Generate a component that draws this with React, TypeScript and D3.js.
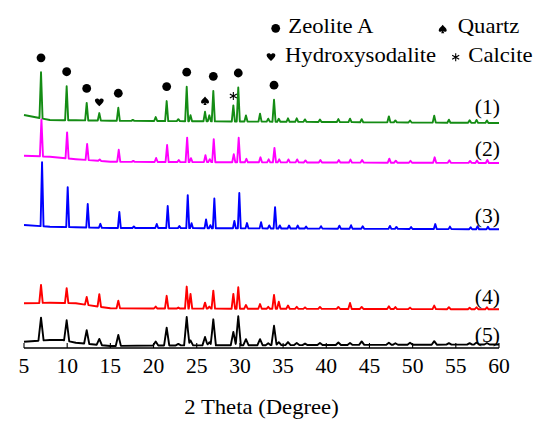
import * as d3 from "d3";

// 2θ tick labels
const thetaTicks = [5, 10, 15, 20, 25, 30, 35, 40, 45, 50, 55, 60];

// peak positions (2θ) shared by all samples
const peakTheta = [
  6.97, 9.94, 12.26, 13.72, 15.92, 17.6, 20.25, 21.52, 22.87, 23.84, 24.28, 25.96,
  26.46, 26.92, 29.24, 29.81, 30.7, 32.33, 33.28, 33.95, 34.5, 35.57, 36.58, 37.54,
  39.27, 41.4, 42.75, 44.1, 47.25, 48.0, 49.7, 52.5, 54.2, 56.6, 57.4, 58.6
];

// net peak intensities (a.u.) per sample, same order as peakTheta
const peaks1 = [46, 34, 17.5, 7.5, 13, 1, 4, 20, 2, 34.5, 6, 9.5, 6, 30.5, 16, 34, 6, 8, 3, 22, 3, 3.5, 3.5, 2.5, 2.5, 3, 3.5, 3, 6, 2, 2, 7, 3, 2.5, 3, 2.5];
const peaks2 = [37, 26, 16, 1.5, 12, 1, 4, 17, 2, 24.5, 4, 7, 3, 23, 8, 24.5, 3.5, 5, 3, 14.5, 3, 3, 3, 2, 2.5, 2.5, 3, 2.5, 4, 2, 2, 5.5, 2.5, 2, 2.5, 3];
const peaks3 = [64, 40, 23.5, 4, 16, 1.5, 4, 22, 2, 33, 5, 8.7, 3, 29.7, 7.3, 35.3, 5.3, 6.3, 3, 21.3, 3, 3, 3, 2, 2.5, 3, 3.5, 2.5, 3, 2, 2, 5, 2.5, 2, 3, 2.5];
const peaks4 = [18, 15, 8, 12.5, 7.7, 0, 2, 12.7, 1, 22, 14.7, 6, 2, 18, 14.7, 21.4, 3.7, 4.7, 2, 13.8, 7, 3.3, 2, 1.5, 2, 2, 6, 2, 2.7, 2, 1.5, 3.6, 2, 1.5, 2, 2];
const peaks5 = [23, 20.5, 13.5, 6, 11, 0, 4, 17.7, 1.5, 28.4, 5, 8.4, 3, 26, 13.4, 29, 6, 6, 2, 19.4, 3, 3, 2, 1.5, 2, 2.5, 2, 3.5, 2, 1.5, 2, 3.5, 1.5, 1.5, 2, 1.5];

// background (stacked offset + amorphous hump) at these 2θ knots
const baseKnots = [5, 8, 9.5, 11, 15, 20, 60];
const base1 = [233, 228, 227.8, 227.7, 227.3, 227, 225];
const base2 = [192.3, 191.3, 190, 188.8, 186.3, 186, 185];
const base3 = [123, 121.3, 121, 120.7, 120, 120, 118.7];
const base4 = [44.7, 45.3, 45, 44.7, 39.7, 39.5, 38.7];
const base5 = [6.3, 8, 8, 5.3, 2, 2.5, 3.5];

const sampleLabels = ["(1)", "(2)", "(3)", "(4)", "(5)"];

// phase markers over sample (1)
const markerPhase = ["zeolite", "zeolite", "zeolite", "hydroxy", "zeolite", "zeolite", "zeolite", "quartz", "zeolite", "calcite", "zeolite", "zeolite"];
const markerTheta = [6.97, 9.94, 12.26, 13.72, 15.92, 21.52, 23.84, 25.96, 26.92, 29.24, 29.81, 33.95];

const legendPhase = ["zeolite", "quartz", "hydroxy", "calcite"];
const legendNames = ["Zeolite A", "Quartz", "Hydroxysodalite", "Calcite"];

const series = [
  { label: sampleLabels[0], peaks: peaks1, base: base1, color: "#148c14", width: 0.18, shift: 0, lift: 9.4 },
  { label: sampleLabels[1], peaks: peaks2, base: base2, color: "#ff00ff", width: 0.18, shift: 0.05, lift: 7.4 },
  { label: sampleLabels[2], peaks: peaks3, base: base3, color: "#0000ff", width: 0.17, shift: 0.12, lift: 6.3 },
  { label: sampleLabels[3], peaks: peaks4, base: base4, color: "#ff0000", width: 0.2, shift: 0, lift: 5.7 },
  { label: sampleLabels[4], peaks: peaks5, base: base5, color: "#000000", width: 0.3, shift: 0, lift: 2.2 }
];

type Series = (typeof series)[number];

const width = 550;
const height = 432;
const serif = { fontFamily: "'Liberation Serif', 'Times New Roman', Times, serif" };
const stretch = 1.08; // the source figure's text is slightly wide

const x = d3.scaleLinear([5, 60], [24, 499]);
const y = d3.scaleLinear([0, 300], [348, 48]);

function intensityAt(s: Series, t: number) {
  const baseAt = d3.scaleLinear(baseKnots, s.base);
  const net = d3.sum(peakTheta, (p, i) => {
    const d = Math.abs(t - (p + s.shift));
    return d < s.width ? s.peaks[i] * (1 - d / s.width) : 0;
  });
  return baseAt(t) + net;
}

function tracePoints(s: Series): [number, number][] {
  const knots = new Set<number>(baseKnots);
  peakTheta.forEach((p, i) => {
    if (s.peaks[i] <= 0) return;
    const c = p + s.shift;
    knots.add(c - s.width);
    knots.add(c);
    knots.add(c + s.width);
  });
  const ts = Array.from(knots).filter(t => t >= 5 && t <= 60).sort((a, b) => a - b);
  return ts.map(t => [t, intensityAt(s, t)]);
}

function heartPath(r: number) {
  return `M0,${0.95 * r} C${-0.35 * r},${0.55 * r} ${-r},${0.15 * r} ${-r},${-0.35 * r}
    C${-r},${-0.85 * r} ${-0.3 * r},${-1 * r} 0,${-0.5 * r}
    C${0.3 * r},${-1 * r} ${r},${-0.85 * r} ${r},${-0.35 * r}
    C${r},${0.15 * r} ${0.35 * r},${0.55 * r} 0,${0.95 * r} Z`;
}

function spadePath(r: number) {
  return `M0,${-1.05 * r} C${0.35 * r},${-0.55 * r} ${r},${-0.2 * r} ${r},${0.3 * r}
    C${r},${0.75 * r} ${0.35 * r},${0.85 * r} ${0.1 * r},${0.45 * r}
    L${0.4 * r},${1.05 * r} L${-0.4 * r},${1.05 * r} L${-0.1 * r},${0.45 * r}
    C${-0.35 * r},${0.85 * r} ${-r},${0.75 * r} ${-r},${0.3 * r}
    C${-r},${-0.2 * r} ${-0.35 * r},${-0.55 * r} 0,${-1.05 * r} Z`;
}

const asterisk = d3.symbol(d3.symbolAsterisk, 46)() ?? undefined;

function Symbol({ phase, cx, cy }: { phase: string; cx: number; cy: number }) {
  const t = `translate(${cx},${cy})`;
  if (phase === "zeolite") return <circle cx={cx} cy={cy} r={4.4} fill="#000" />;
  if (phase === "hydroxy") return <path transform={t} d={heartPath(4.4)} fill="#000" />;
  if (phase === "quartz") return <path transform={t} d={spadePath(4)} fill="#000" />;
  return <path transform={t} d={asterisk} fill="none" stroke="#000" strokeWidth={1.1} />;
}

function Label({ x0, y0, size, anchor = "start", children }: { x0: number; y0: number; size: number; anchor?: string; children: React.ReactNode }) {
  return (
    <text style={serif} transform={`translate(${x0},${y0}) scale(${stretch},1)`} textAnchor={anchor} fontSize={size}>
      {children}
    </text>
  );
}

const markerGap: Record<string, number> = { zeolite: 14.5, hydroxy: 11, quartz: 11, calcite: 9.5 };

// legend layout: [symbol x, symbol y, text x, text baseline]
const legendLayout = [
  [275.7, 28.3, 288.3, 33.3],
  [442.7, 29, 457.7, 33.3],
  [271, 56.7, 285, 61.7],
  [455.7, 57.3, 468.3, 61.7]
];

export default function App() {
  const line = d3
    .line<[number, number]>()
    .x(d => x(d[0]))
    .y(d => y(d[1]));

  return (
    <svg
      width={width}
      height={height}
      viewBox={`0 0 ${width} ${height}`}
      style={{ position: "absolute", left: 0, top: 0, background: "#fff", display: "block" }}
    >
      {series.map(s => (
        <path
          key={s.label}
          d={line(tracePoints(s)) ?? undefined}
          fill="none"
          stroke={s.color}
          strokeWidth={1.9}
          strokeLinejoin="round"
        />
      ))}

      {series.map(s => (
        <Label key={`lab-${s.label}`} x0={x(60) + 1} y0={y(s.base[s.base.length - 1]) - s.lift} size={20} anchor="end">
          {s.label}
        </Label>
      ))}

      {markerTheta.map((t, i) => {
        const phase = markerPhase[i];
        const top = intensityAt(series[0], t + series[0].shift);
        return <Symbol key={`m-${i}`} phase={phase} cx={x(t)} cy={y(top) - markerGap[phase]} />;
      })}

      {legendPhase.map((phase, i) => {
        const [sx, sy, tx, ty] = legendLayout[i];
        return (
          <g key={phase}>
            <Symbol phase={phase} cx={sx} cy={sy} />
            <Label x0={tx} y0={ty} size={21}>{legendNames[i]}</Label>
          </g>
        );
      })}

      <line x1={x(5)} x2={x(60)} y1={y(0)} y2={y(0)} stroke="#000" strokeWidth={1.3} />
      {thetaTicks.map(t => (
        <g key={t}>
          <line x1={x(t)} x2={x(t)} y1={y(0)} y2={y(0) - 5} stroke="#000" strokeWidth={1.1} />
          <Label x0={x(t)} y0={372.7} size={20} anchor="middle">{t}</Label>
        </g>
      ))}
      <Label x0={(x(5) + x(60)) / 2} y0={414.3} size={21} anchor="middle">
        2 Theta (Degree)
      </Label>
    </svg>
  );
}
